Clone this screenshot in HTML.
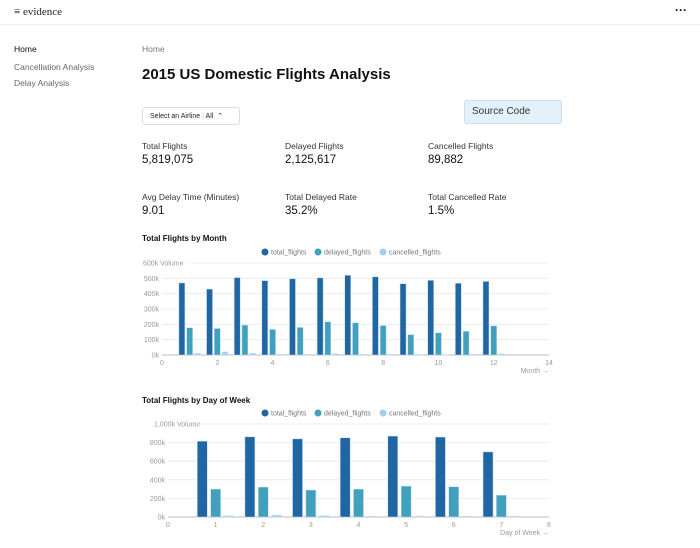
<!DOCTYPE html>
<html><head><meta charset="utf-8"><style>
body{margin:0;width:700px;height:548px;background:#fff;font-family:"Liberation Sans",sans-serif;position:relative;overflow:hidden;color:#111}
.a{position:absolute;white-space:nowrap}
.lbl{font-size:8.5px;color:#333}
.val{font-size:11.5px;color:#111}
svg{position:absolute;left:0;top:0}
</style></head><body>
<div class="a" style="left:0;top:0;width:700px;height:24px;border-bottom:1px solid #eee"></div>
<div class="a" style="left:14px;top:6px;font-family:'Liberation Serif',serif;font-size:11px;color:#222">≡ evidence</div>
<div class="a" style="left:675px;top:3px;font-size:12px;font-weight:bold">···</div>
<div class="a" style="left:14px;top:44px;font-size:8.5px;color:#111">Home</div>
<div class="a" style="left:14px;top:62px;font-size:8.5px;color:#666">Cancellation Analysis</div>
<div class="a" style="left:14px;top:78px;font-size:8.5px;color:#666">Delay Analysis</div>
<div class="a" style="left:142px;top:44px;font-size:8.5px;color:#777">Home</div>
<div class="a" style="left:142px;top:66px;font-size:15px;font-weight:bold;color:#111">2015 US Domestic Flights Analysis</div>
<div class="a" style="left:142px;top:107px;width:98px;height:18px;border:1px solid #ddd;border-radius:3px;font-size:7px;line-height:18px;box-sizing:border-box;padding-left:7px;color:#222">Select an Airline <span style="color:#ccc">|</span> All &nbsp;⌃</div>
<div class="a" style="left:464px;top:100px;width:98px;height:24px;background:#e4f0fa;border:1px solid #c9def0;border-radius:3px;box-sizing:border-box;font-size:10px;line-height:22px;padding-left:7px;color:#333">Source Code</div>
<div class="a lbl" style="left:142px;top:141px">Total Flights</div>
<div class="a val" style="left:142px;top:154px">5,819,075</div>
<div class="a lbl" style="left:285px;top:141px">Delayed Flights</div>
<div class="a val" style="left:285px;top:154px">2,125,617</div>
<div class="a lbl" style="left:428px;top:141px">Cancelled Flights</div>
<div class="a val" style="left:428px;top:154px">89,882</div>
<div class="a lbl" style="left:142px;top:192px">Avg Delay Time (Minutes)</div>
<div class="a val" style="left:142px;top:205px">9.01</div>
<div class="a lbl" style="left:285px;top:192px">Total Delayed Rate</div>
<div class="a val" style="left:285px;top:205px">35.2%</div>
<div class="a lbl" style="left:428px;top:192px">Total Cancelled Rate</div>
<div class="a val" style="left:428px;top:205px">1.5%</div>
<div class="a" style="left:142px;top:234px;font-size:8px;font-weight:bold">Total Flights by Month</div>
<div class="a" style="left:142px;top:396px;font-size:8px;font-weight:bold">Total Flights by Day of Week</div>
<svg id="c1" width="700" height="548"></svg>
<svg id="c2" width="700" height="548"></svg>
<script>
const months=[1,2,3,4,5,6,7,8,9,10,11,12];
const mTotal=[470,430,505,485,497,503,520,510,465,487,468,480];
const mDelayed=[178,173,195,167,180,217,210,192,133,145,155,190];
const mCancelled=[11,20,11,5,5,9,5,5,3,3,5,8];
const mYTicks=[0,100,200,300,400,500,600];
const mXTicks=[0,2,4,6,8,10,12,14];
const days=[1,2,3,4,5,6,7];
const dTotal=[815,862,840,852,870,860,700];
const dDelayed=[300,322,290,300,332,325,235];
const dCancelled=[12,20,15,8,10,8,8];
const dYTicks=[0,200,400,600,800,1000];
const dXTicks=[0,1,2,3,4,5,6,7,8];
const colors=['#2066a3','#42a0bf','#a6cdee'];
const names=['total_flights','delayed_flights','cancelled_flights'];
const NS='http://www.w3.org/2000/svg';
function mk(svg,tag,attrs,txt){const e=document.createElementNS(NS,tag);for(const k in attrs)e.setAttribute(k,attrs[k]);if(txt!==undefined)e.textContent=txt;svg.appendChild(e);return e;}
function chart(id,cfg){
  const svg=document.getElementById(id);
  const x=v=>cfg.x0+(v-cfg.xmin)/(cfg.xmax-cfg.xmin)*(cfg.x1-cfg.x0);
  const y=v=>cfg.y0-(v/cfg.ymax)*(cfg.y0-cfg.ytop);
  // legend
  cfg.legX.forEach((lx,i)=>{
    const c=mk(svg,'circle',{cx:lx,cy:cfg.legY,r:3.5,fill:colors[i]});
    
    
    const t=mk(svg,'text',{x:lx+6,y:cfg.legY+2.5,'font-size':7,fill:'#777'},names[i]);
    
    
  });
  cfg.yTicks.forEach((v,i)=>{
    const last=i===cfg.yTicks.length-1;
    const lab=(v>=1000?'1,000':v)+'k'+(last?' Volume':'');
    const t=mk(svg,'text',{x:last?cfg.labL:cfg.labR,y:y(v)+2.5,'font-size':7,fill:'#999','text-anchor':last?'start':'end'},lab);
    
    
    const g=mk(svg,'line',{x1:last?cfg.gridStartTop:cfg.x0,x2:cfg.x1,y1:y(v),y2:y(v),stroke:v===0?'#bbb':'#e8e8e8','stroke-width':v===0?1:0.8});
    
    
  });
  cfg.xTicks.forEach(v=>{
    const t=mk(svg,'text',{x:x(v),y:cfg.y0+10,'font-size':7,fill:'#999','text-anchor':'middle'},v);
    
    
  });
  const xt=mk(svg,'text',{x:cfg.x1,y:cfg.y0+18,'font-size':7,fill:'#999','text-anchor':'end'},cfg.xTitle+' →');
  
  
  const series=[cfg.s0,cfg.s1,cfg.s2];
  const offs=[-0.28,0,0.28];
  series.forEach((s,si)=>{
    s.forEach((v,i)=>{
      const cx=x(cfg.cats[i]+offs[si]*cfg.offScale);
      const r=mk(svg,'rect',{x:cx-cfg.bw/2,y:y(v),width:cfg.bw,height:Math.max(0.5,cfg.y0-y(v)),fill:colors[si],stroke:'#c9dff2','stroke-width':0.5});
      
      
    });
  });
}
chart('c1',{x0:162,x1:549,xmin:0,xmax:14,y0:355,ytop:263,ymax:600,cats:months,s0:mTotal,s1:mDelayed,s2:mCancelled,yTicks:mYTicks,xTicks:mXTicks,bw:6,offScale:1,labR:159,labL:143,gridStartTop:190,legX:[265,318,383],legY:252,xTitle:'Month'});
chart('c2',{x0:168,x1:549,xmin:0,xmax:8,y0:517,ytop:424,ymax:1000,cats:days,s0:dTotal,s1:dDelayed,s2:dCancelled,yTicks:dYTicks,xTicks:dXTicks,bw:10,offScale:1,labR:165,labL:154,gridStartTop:196,legX:[265,318,383],legY:413,xTitle:'Day of Week'});
</script>
</body></html>
